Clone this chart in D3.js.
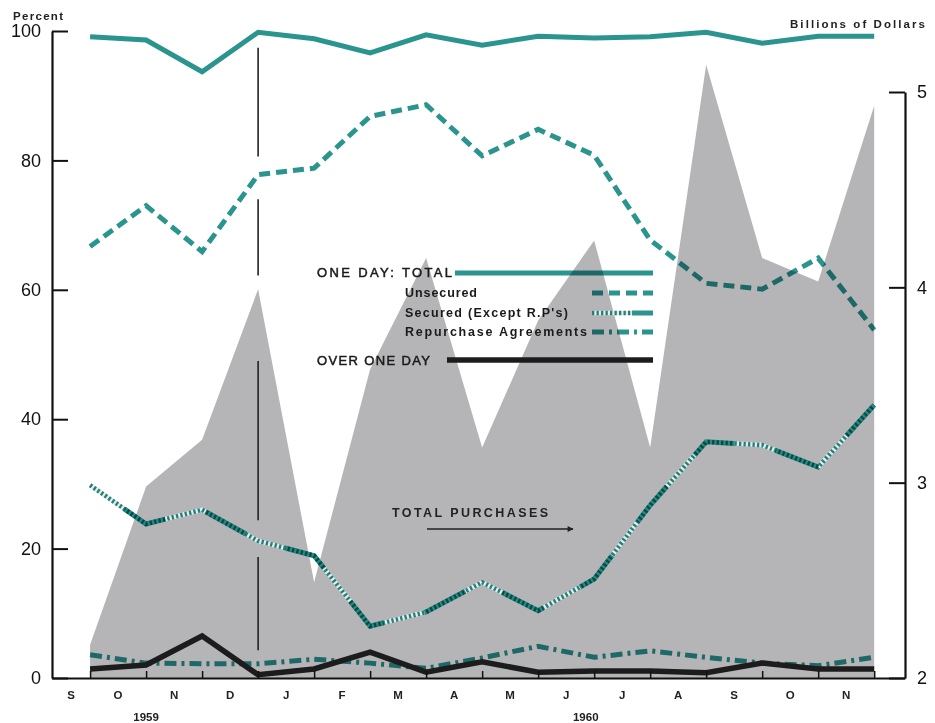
<!DOCTYPE html>
<html><head><meta charset="utf-8">
<script src="https://cdn.jsdelivr.net/npm/d3@7"></script>
<style>
body{margin:0;background:#fff;}
svg{display:block;font-family:"Liberation Sans",Arial,sans-serif;}
</style></head><body>
<svg id="chart" width="935" height="723"></svg>
<script>
// ---- data (month-end values, Sep 1959 .. Nov 1960) ----
const months = ["S","O","N","D","J","F","M","A","M","J","J","A","S","O","N"];
const years = [{label:"1959", at:1.0}, {label:"1960", at:8.85}];
const oneDayTotal   = [99.1, 98.6, 93.7, 99.8, 98.8, 96.6, 99.4, 97.8, 99.2, 98.9, 99.1, 99.8, 98.1, 99.2, 99.2];
const unsecured     = [66.7, 73.0, 65.9, 77.8, 78.8, 86.8, 88.6, 80.7, 84.8, 80.8, 67.7, 61.0, 60.1, 64.9, 53.8];
const secured       = [29.8, 23.8, 26.0, 21.2, 18.9, 8.0, 10.2, 14.8, 10.4, 15.3, 26.7, 36.5, 36.0, 32.6, 42.2];
const repurchase    = [3.6, 2.3, 2.2, 2.2, 2.9, 2.3, 1.5, 3.1, 4.9, 3.2, 4.2, 3.2, 2.3, 1.9, 3.2];
const overOneDay    = [1.4, 2.0, 6.5, 0.5, 1.4, 4.0, 0.9, 2.5, 0.9, 1.1, 1.1, 0.8, 2.3, 1.4, 1.4];
const totalPurchases= [2.17, 2.98, 3.22, 3.99, 2.49, 3.58, 4.15, 3.18, 3.83, 4.24, 3.18, 5.14, 4.15, 4.03, 4.93];
const percentTicks = [0, 20, 40, 60, 80, 100];
const dollarTicks = [2, 3, 4, 5];
const yearMarkSegments = [[97.4, 80.6], [74, 62.2], [49, 24.4], [18.7, 4.3]];

// ---- setup ----
const teal = "#2a948f";
const hatchTeal = "#23807a";
const hatchLight = "#e6eceb";
const svg = d3.select("#chart");
const x  = d3.scaleLinear().domain([-0.68, 14.55]).range([52, 905]);
const yL = d3.scaleLinear().domain([0, 100]).range([678, 31]);
const yR = d3.scaleLinear().domain([2, 5]).range([678, 92]);

const defs = svg.append("defs");
defs.append("marker").attr("id","arrow").attr("viewBox","0 0 10 10")
  .attr("refX",9).attr("refY",5).attr("markerWidth",9).attr("markerHeight",6)
  .attr("markerUnits","userSpaceOnUse").attr("orient","auto")
  .append("path").attr("d","M0,0L10,5L0,10Z").attr("fill","#222");

// ---- total purchases area (right axis) ----
svg.append("path").datum(totalPurchases)
  .attr("d", d3.area().x((d,i)=>x(i)).y0(yR(2)).y1(d=>yR(d)))
  .attr("fill","#b5b5b7");

// ---- year-end marker ----
svg.append("g").selectAll("line").data(yearMarkSegments).join("line")
  .attr("x1", x(3)).attr("x2", x(3))
  .attr("y1", d=>yL(d[0])).attr("y2", d=>yL(d[1]))
  .attr("stroke","#222").attr("stroke-width",1.6);

// ---- lines ----
const line = d3.line().x((d,i)=>x(i)).y(d=>yL(d));
// hatched base of the secured series
svg.append("path").datum(secured).attr("d", line)
  .attr("fill","none").attr("stroke",hatchLight).attr("stroke-width",4.5);
svg.append("path").datum(secured).attr("d", line)
  .attr("fill","none").attr("stroke",hatchTeal).attr("stroke-width",4.5).attr("stroke-dasharray","2.3,2.2");

const lg = svg.append("g").style("mix-blend-mode","multiply")
  .attr("fill","none").attr("stroke-linejoin","miter");
lg.append("path").datum(oneDayTotal).attr("d", line)
  .attr("stroke", teal).attr("stroke-width",5);
lg.append("path").datum(unsecured).attr("d", line)
  .attr("stroke", teal).attr("stroke-width",5).attr("stroke-dasharray","11,6");
lg.append("path").datum(secured).attr("d", line)
  .attr("stroke", teal).attr("stroke-width",5).attr("stroke-dasharray","46,42").attr("stroke-dashoffset",-42);
lg.append("path").datum(repurchase).attr("d", line)
  .attr("stroke", teal).attr("stroke-width",5).attr("stroke-dasharray","12,5,3,5");
svg.append("path").datum(overOneDay).attr("d", line)
  .attr("fill","none").attr("stroke","#1c1c1c").attr("stroke-width",5.5).attr("stroke-linejoin","miter");

// ---- axes ----
const axL = svg.append("g").attr("transform",`translate(${x.range()[0]},0)`)
  .call(d3.axisLeft(yL).tickValues(percentTicks).tickSize(-16).tickSizeOuter(0).tickPadding(11).tickFormat(d3.format("d")));
const axR = svg.append("g").attr("transform",`translate(${x.range()[1]},0)`)
  .call(d3.axisRight(yR).tickValues(dollarTicks).tickSize(-16).tickSizeOuter(0).tickPadding(12).tickFormat(d3.format("d")));
const axB = svg.append("g").attr("transform",`translate(0,${yL(0)})`)
  .call(d3.axisBottom(x).tickValues(d3.range(months.length)).tickSize(-7).tickSizeOuter(0).tickFormat(""));
[axL, axR, axB].forEach(a=>{
  a.select(".domain").attr("stroke","#111").attr("stroke-width",2.2);
  a.selectAll(".tick line").attr("stroke","#111").attr("stroke-width",2);
  a.selectAll(".tick text").attr("font-size",18).attr("fill","#111")
   .attr("font-family","'Liberation Sans',Arial,sans-serif");
});
axB.selectAll(".tick line").attr("stroke-width",1.5);

// month labels centred between month boundaries
svg.append("g").selectAll("text").data(months).join("text")
  .attr("x",(d,i)=>(Math.max(x(i-1), x.range()[0]) + x(i))/2)
  .attr("y",695).attr("dominant-baseline","central").attr("text-anchor","middle")
  .attr("font-size",11.5).attr("font-weight","bold").attr("fill","#222").text(d=>d);
svg.append("g").selectAll("text").data(years).join("text")
  .attr("x",d=>x(d.at)).attr("y",717).attr("dominant-baseline","central").attr("text-anchor","middle")
  .attr("font-size",11.5).attr("font-weight","bold").attr("fill","#222").text(d=>d.label);

// axis titles
svg.append("text").attr("x",13).attr("y",16).attr("dominant-baseline","central")
  .attr("font-size",11.5).attr("font-weight","bold").attr("fill","#222")
  .attr("textLength",50).attr("lengthAdjust","spacing").text("Percent");
svg.append("text").attr("x",790).attr("y",24).attr("dominant-baseline","central")
  .attr("font-size",11.5).attr("font-weight","bold").attr("fill","#222")
  .attr("textLength",135).attr("lengthAdjust","spacing").text("Billions of Dollars");

// ---- legend ----
const leg = svg.append("g");
const legText = (tx, ty, txt, len, bold) => leg.append("text").attr("x",tx).attr("y",ty)
  .attr("dominant-baseline","central").attr("font-size",bold?12.5:13).attr("font-weight",bold?"bold":"normal")
  .attr("fill","#1a1a1a").attr("stroke", bold?"none":"#1a1a1a").attr("stroke-width",0.5)
  .attr("textLength",len).attr("lengthAdjust","spacing").text(txt);
legText(317, 272, "ONE DAY:  TOTAL", 135, false);
legText(405, 293, "Unsecured", 72, true);
legText(405, 313, "Secured (Except R.P's)", 163, true);
legText(405, 332, "Repurchase Agreements", 182, true);
legText(317, 360, "OVER ONE DAY", 113, false);

leg.append("line").attr("x1",592).attr("x2",632).attr("y1",313).attr("y2",313)
  .attr("stroke",hatchLight).attr("stroke-width",4.5);
leg.append("line").attr("x1",592).attr("x2",632).attr("y1",313).attr("y2",313)
  .attr("stroke",hatchTeal).attr("stroke-width",4.5).attr("stroke-dasharray","2.3,2.2");
const kg = leg.append("g").style("mix-blend-mode","multiply").attr("fill","none");
kg.append("line").attr("x1",455).attr("x2",653).attr("y1",273).attr("y2",273)
  .attr("stroke",teal).attr("stroke-width",5);
kg.append("line").attr("x1",592).attr("x2",653).attr("y1",293).attr("y2",293)
  .attr("stroke",teal).attr("stroke-width",5).attr("stroke-dasharray","11,6");
kg.append("line").attr("x1",632).attr("x2",653).attr("y1",313).attr("y2",313)
  .attr("stroke",teal).attr("stroke-width",5);
kg.append("line").attr("x1",592).attr("x2",653).attr("y1",332).attr("y2",332)
  .attr("stroke",teal).attr("stroke-width",5).attr("stroke-dasharray","12,5,3,5");
leg.append("line").attr("x1",447).attr("x2",653).attr("y1",360).attr("y2",360)
  .attr("stroke","#1c1c1c").attr("stroke-width",5.5);

// total purchases annotation
svg.append("text").attr("x",392).attr("y",513).attr("dominant-baseline","central")
  .attr("font-size",12.5).attr("font-weight","bold").attr("fill","#222")
  .attr("textLength",156).attr("lengthAdjust","spacing").text("TOTAL PURCHASES");
svg.append("line").attr("x1",427).attr("x2",573).attr("y1",529).attr("y2",529)
  .attr("stroke","#222").attr("stroke-width",1.6).attr("marker-end","url(#arrow)");
</script>
</body></html>
